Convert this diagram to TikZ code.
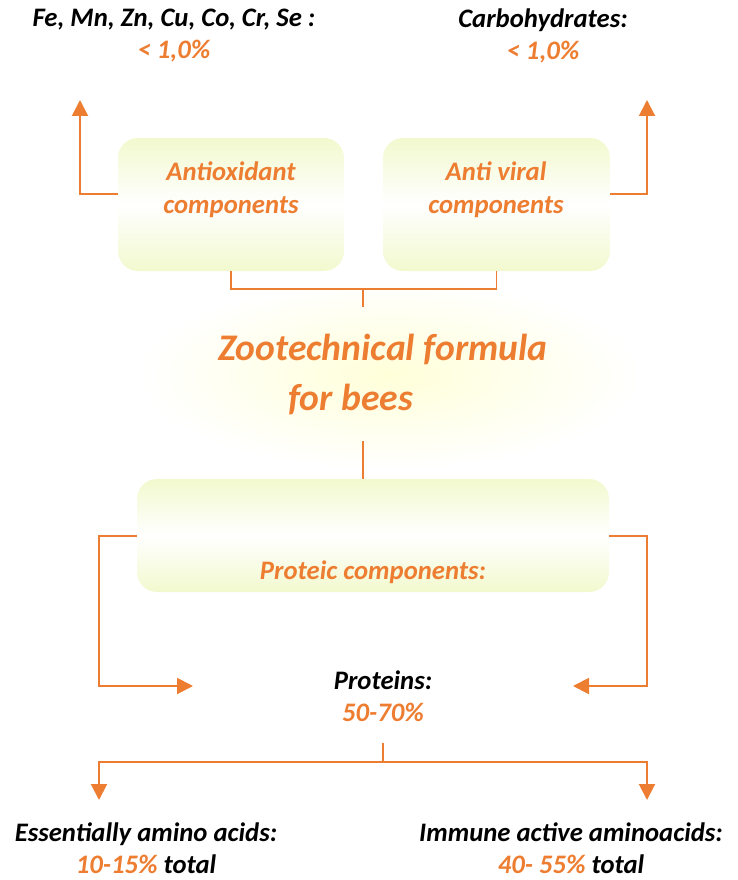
\documentclass[tikz,border=0pt]{standalone}
\usepackage{fontspec}
\setmainfont{Carlito}
\usetikzlibrary{arrows.meta,calc}
\definecolor{accent}{HTML}{ED7D31}
\definecolor{lime}{HTML}{F2F9CE}
\definecolor{glowc}{HTML}{FFFFD9}
\begin{document}
\begin{tikzpicture}[x=1pt,y=-1pt,
  txt/.style={font=\bfseries\itshape\fontsize{26.7pt}{32pt}\selectfont, align=center, inner sep=0pt},
  boxtxt/.style={txt, text=accent, font=\bfseries\itshape\fontsize{26.7pt}{33pt}\selectfont},
  titletxt/.style={font=\bfseries\itshape\fontsize{37.6pt}{50pt}\selectfont, text=accent, inner sep=0pt, anchor=base west},
  panel/.style={draw=none, rounded corners=20pt, top color=lime, bottom color=lime, middle color=white, inner sep=0pt},
  conn/.style={draw=accent, line width=1.6pt},
  arr/.style={draw=accent, line width=2pt, -{Triangle[length=16pt,width=16pt]}}]
\useasboundingbox (0,0) rectangle (737,880);

% soft glow behind the title
\shade[inner color=glowc, outer color=white] (390,375) ellipse [x radius=250, y radius=95];

% top labels
\node[txt] (fe) at (174,36) {Fe, Mn, Zn, Cu, Co, Cr, Se :\\{\color{accent}< 1,0\%}};
\node[txt] (carb) at (543,36) {Carbohydrates:\\{\color{accent}< 1,0\%}};

% component panels
\node[panel, minimum width=226pt, minimum height=133pt] (anti) at (231,204.5) {};
\node[boxtxt] (antitxt) at (231,190) {Antioxidant\\components};
\node[panel, minimum width=227pt, minimum height=133pt] (viral) at (496.5,204.5) {};
\node[boxtxt] (viraltxt) at (496,190) {Anti viral\\components};

% arrows up to the top labels
\coordinate (feTip) at (80,100);
\coordinate (carbTip) at (647,100);
\draw[arr] ([yshift=10.5pt]anti.west) -| (feTip);
\draw[arr] ([yshift=10.5pt]viral.east) -| (carbTip);

% bracket joining both panels to the title
\coordinate (join) at (363,289);
\coordinate (titleTop) at (363,307);
\draw[conn] (anti.south) |- (join) -| (viral.south);
\draw[conn] (join) -- (titleTop);

% title
\node[titletxt] (title1) at (218,360) {Zootechnical formula};
\node[titletxt] (title2) at (288,410) {for bees};

% proteic panel
\node[panel, minimum width=472pt, minimum height=113pt] (prot) at (373,535.5) {};
\node[boxtxt] (prottxt) at (373,572) {Proteic components:};
\coordinate (titleBot) at (363,441);
\draw[conn] (titleBot) -- (titleBot |- prot.north);

% side arrows into the proteins label
\coordinate (protInL) at (193,686);
\coordinate (protInR) at (573,686);
\draw[arr] (prot.west) -| ([xshift=-94pt]protInL) -- (protInL);
\draw[arr] (prot.east) -| ([xshift=74pt]protInR) -- (protInR);

\node[txt] (proteins) at (383,696) {Proteins:\\{\color{accent}50-70\%}};

% split into the two amino acid groups
\coordinate (split) at (383,743);
\coordinate (splitJ) at (383,762);
\coordinate (essTip) at (99,800);
\coordinate (immTip) at (647,800);
\draw[conn] (split) -- (splitJ);
\draw[arr] (splitJ) -| (essTip);
\draw[arr] (splitJ) -| (immTip);

\node[txt] (ess) at (146,848) {Essentially amino acids:\\{\color{accent}10-15\%} total};
\node[txt] (imm) at (571,848) {Immune active aminoacids:\\{\color{accent}40- 55\%} total};
\end{tikzpicture}
\end{document}
